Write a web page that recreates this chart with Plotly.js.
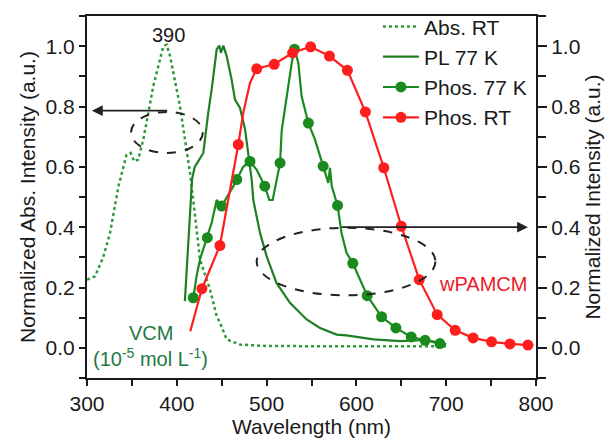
<!DOCTYPE html>
<html>
<head>
<meta charset="utf-8">
<script src="https://cdn.plot.ly/plotly-3.0.1.min.js"></script>
<style>html,body{margin:0;padding:0;background:#fff;}</style>
</head>
<body>
<div id="chart" style="width:610px;height:443px;"></div>
<script>
// Abs. RT (left axis)
var absX = [300, 309, 318, 325.6, 335, 344, 348.6, 352.7, 357, 362.7, 373.8, 385, 388.7, 392.5, 403.6, 414.7, 420, 425.8, 437, 444.4, 448, 455.5, 470, 500, 600, 700];
var absY = [0.226, 0.237, 0.30, 0.38, 0.535, 0.64, 0.646, 0.618, 0.624, 0.69, 0.867, 1.0, 1.005, 0.967, 0.80, 0.58, 0.447, 0.293, 0.193, 0.105, 0.084, 0.028, 0.011, 0.006, 0.005, 0.005];

// PL 77 K
var plX = [409, 412, 415, 417, 420, 425.8, 429.5, 435, 438.8, 444.4, 447.3, 449.2, 451.8, 455.5, 461, 464.8, 470.4, 476, 479.6, 483.4, 485.2, 492.7, 500, 511, 526, 544.6, 559.5, 578, 589, 619, 649, 678, 700];
var plY = [0.155, 0.30, 0.45, 0.56, 0.60, 0.63, 0.646, 0.779, 0.856, 0.989, 1.002, 0.978, 1.002, 0.967, 0.89, 0.823, 0.795, 0.724, 0.635, 0.558, 0.49, 0.381, 0.304, 0.215, 0.149, 0.094, 0.066, 0.044, 0.041, 0.028, 0.022, 0.026, 0.012];

// Phos. 77 K : full curve and its marked points
var p77LineX = [418.4, 422, 425.8, 434, 438.8, 444.4, 448, 450, 463, 466.7, 474, 481.5, 489, 498, 503, 506.8, 515, 516.8, 522.4, 528, 531, 535.3, 539, 546.5, 553.9, 563, 568.7, 570.6, 572.5, 579, 583.5, 589, 596, 612, 628, 644, 661, 676.5, 693, 700];
var p77LineY = [0.166, 0.237, 0.293, 0.365, 0.414, 0.49, 0.475, 0.47, 0.536, 0.558, 0.60, 0.618, 0.59, 0.536, 0.49, 0.49, 0.613, 0.72, 0.834, 0.945, 0.99, 0.945, 0.834, 0.745, 0.69, 0.602, 0.547, 0.597, 0.536, 0.472, 0.38, 0.315, 0.28, 0.173, 0.103, 0.066, 0.036, 0.025, 0.014, 0.012];
var p77MarkX = [418.4, 434, 450, 466.7, 481.5, 498, 515, 531, 546.5, 563, 579, 596, 612, 628, 644, 661, 676.5, 693];
var p77MarkY = [0.166, 0.365, 0.47, 0.558, 0.618, 0.536, 0.613, 0.99, 0.745, 0.602, 0.472, 0.28, 0.173, 0.103, 0.066, 0.036, 0.025, 0.014];

// Phos. RT : full curve and its marked points
var rtLineX = [415, 428, 448, 468.5, 474, 481.5, 489, 508.5, 529, 549, 570, 590, 610, 630.5, 650, 670, 690, 710, 730, 750.5, 771, 791, 797];
var rtLineY = [0.055, 0.196, 0.339, 0.674, 0.779, 0.878, 0.925, 0.94, 0.978, 0.998, 0.967, 0.92, 0.782, 0.597, 0.403, 0.226, 0.11, 0.058, 0.033, 0.02, 0.013, 0.009, 0.008];
var rtMarkX = [428, 448, 468.5, 489, 508.5, 529, 549, 570, 590, 610, 630.5, 650, 670, 690, 710, 730, 750.5, 771, 791];
var rtMarkY = [0.196, 0.339, 0.674, 0.925, 0.94, 0.978, 0.998, 0.967, 0.92, 0.782, 0.597, 0.403, 0.226, 0.11, 0.058, 0.033, 0.02, 0.013, 0.009];

var seriesNames = ["Abs. RT", "PL 77 K", "Phos. 77 K", "Phos. RT"];
var xTickVals = [300, 400, 500, 600, 700, 800];
var yTickVals = [0.0, 0.2, 0.4, 0.6, 0.8, 1.0];

var cAbs = "#2e9a3a", cPL = "#1f7f24", cP77 = "#1b8a1e", cRT = "#ff1e1e";
var FONT = "Liberation Sans, Arial, sans-serif";

var traces = [
  {x: absX, y: absY, name: seriesNames[0], mode: "lines", yaxis: "y",
   line: {color: cAbs, width: 2.5, dash: "dot"}, legendgroup: "a"},
  {x: plX, y: plY, name: seriesNames[1], mode: "lines", yaxis: "y2",
   line: {color: cPL, width: 2.2}, legendgroup: "b"},
  {x: p77LineX, y: p77LineY, name: seriesNames[2], mode: "lines", yaxis: "y2",
   line: {color: cP77, width: 2.2}, showlegend: false, legendgroup: "c"},
  {x: p77MarkX, y: p77MarkY, name: seriesNames[2], mode: "markers", yaxis: "y2",
   marker: {color: cP77, size: 11}, showlegend: false, legendgroup: "c"},
  {x: [null], y: [null], name: seriesNames[2], mode: "lines+markers", yaxis: "y2",
   line: {color: cP77, width: 2.2}, marker: {color: cP77, size: 11}, legendgroup: "c"},
  {x: rtLineX, y: rtLineY, name: seriesNames[3], mode: "lines", yaxis: "y2",
   line: {color: cRT, width: 2.2}, showlegend: false, legendgroup: "d"},
  {x: rtMarkX, y: rtMarkY, name: seriesNames[3], mode: "markers", yaxis: "y2",
   marker: {color: cRT, size: 11}, showlegend: false, legendgroup: "d"},
  {x: [null], y: [null], name: seriesNames[3], mode: "lines+markers", yaxis: "y2",
   line: {color: cRT, width: 2.2}, marker: {color: cRT, size: 11}, legendgroup: "d"}
];

var axisFont = {family: FONT, size: 21, color: "#1a1a1a"};
var titleFont = {family: FONT, size: 21, color: "#1a1a1a"};

var layout = {
  width: 610, height: 443,
  margin: {l: 87, r: 74, t: 16, b: 65, pad: 0, autoexpand: false},
  paper_bgcolor: "#fff", plot_bgcolor: "#fff",
  font: {family: FONT, size: 21, color: "#1a1a1a"},
  showlegend: true,
  legend: {x: 0.648, y: 1.027, xanchor: "left", yanchor: "top", bgcolor: "rgba(0,0,0,0)",
           font: {family: FONT, size: 21, color: "#1a1a1a"}, itemwidth: 36, tracegroupgap: 0},
  xaxis: {range: [300, 800], tickvals: xTickVals, ticks: "outside", ticklen: 6, tickwidth: 2,
          tickcolor: "#1a1a1a", showline: true, linewidth: 2, linecolor: "#1a1a1a", mirror: true,
          showgrid: false, zeroline: false, tickfont: axisFont, automargin: false,
          minor: {dtick: 50, tick0: 300, ticks: "outside", ticklen: 6, tickwidth: 2, tickcolor: "#1a1a1a", showgrid: false},
          title: {text: "Wavelength (nm)", font: titleFont, standoff: 5}},
  yaxis: {range: [-0.1, 1.1], tickvals: yTickVals, tickformat: ".1f", ticks: "outside", ticklen: 6, tickwidth: 2,
          tickcolor: "#1a1a1a", showline: true, linewidth: 2, linecolor: "#1a1a1a",
          showgrid: false, zeroline: false, tickfont: axisFont, automargin: false,
          minor: {dtick: 0.1, tick0: 0, ticks: "outside", ticklen: 6, tickwidth: 2, tickcolor: "#1a1a1a", showgrid: false},
          title: {text: "Normalized Abs. Intensity (a.u.)", font: titleFont, standoff: 4}},
  yaxis2: {range: [-0.1, 1.1], tickvals: yTickVals, tickformat: ".1f", overlaying: "y", side: "right", anchor: "x",
          ticks: "outside", ticklen: 9, tickwidth: 2,
          tickcolor: "#1a1a1a", showline: true, linewidth: 2, linecolor: "#1a1a1a",
          showgrid: false, zeroline: false, tickfont: axisFont, automargin: false,
          minor: {dtick: 0.1, tick0: 0, ticks: "outside", ticklen: 8, tickwidth: 2, tickcolor: "#1a1a1a", showgrid: false},
          title: {text: "Normalized Intensity (a.u.)", font: titleFont, standoff: 4}},
  shapes: [
    {type: "circle", xref: "x", yref: "y", x0: 349, x1: 429, y0: 0.646, y1: 0.782,
     line: {color: "#222", width: 2, dash: "dash"}},
    {type: "circle", xref: "x", yref: "y", x0: 489, x1: 688, y0: 0.174, y1: 0.398,
     line: {color: "#222", width: 2, dash: "dash"}}
  ],
  annotations: [
    {x: 305.5, y: 0.786, ax: 391, ay: 0.786, xref: "x", yref: "y", axref: "x", ayref: "y",
     text: "", showarrow: true, arrowhead: 2, arrowsize: 1.2, arrowwidth: 1.8, arrowcolor: "#222"},
    {x: 791, y: 0.40, ax: 582, ay: 0.40, xref: "x", yref: "y", axref: "x", ayref: "y",
     text: "", showarrow: true, arrowhead: 2, arrowsize: 1.2, arrowwidth: 1.8, arrowcolor: "#222"},
    {x: 390.5, y: 1.038, xref: "x", yref: "y", text: "390", showarrow: false,
     font: {family: FONT, size: 20, color: "#1a1a1a"}},
    {x: 371, y: 0.05, xref: "x", yref: "y", text: "VCM", showarrow: false,
     font: {family: FONT, size: 20, color: "#1e7a45"}},
    {x: 371, y: -0.032, xref: "x", yref: "y", text: "(10<sup>-5</sup> mol L<sup>-1</sup>)", showarrow: false,
     font: {family: FONT, size: 20, color: "#1e7a45"}},
    {x: 741, y: 0.21, xref: "x", yref: "y", text: "wPAMCM", showarrow: false,
     font: {family: FONT, size: 20, color: "#e8202a"}}
  ]
};

Plotly.newPlot("chart", traces, layout, {displayModeBar: false, staticPlot: true});
</script>
</body>
</html>
